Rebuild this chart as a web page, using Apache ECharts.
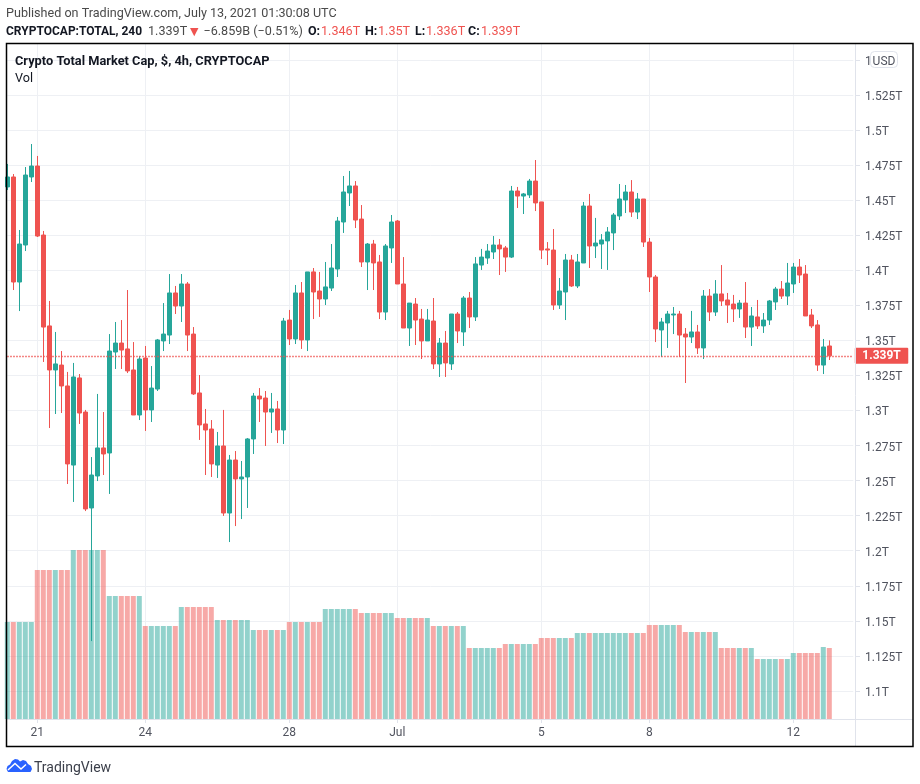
<!DOCTYPE html>
<html><head><meta charset="utf-8">
<style>html,body{margin:0;padding:0;background:#fff}#c{width:920px;height:784px}</style>
<script src="https://cdn.jsdelivr.net/npm/echarts@6/dist/echarts.min.js"></script>
</head><body><div id="c"></div>
<script>
// Prices in billions of USD, 4h candles
const opens=[1459.4,1466.5,1391.6,1418,1466.5,1474.3,1425.1,1360.3,1328.9,1332.4,1317.5,1261.1,1323.2,1298.9,1230.5,1253.3,1273.3,1269.7,1341.7,1348.1,1343.9,1328.9,1296.8,1337.4,1300.4,1315.3,1349.6,1353.8,1383.8,1374.5,1390.2,1354.5,1312.5,1290.4,1286.8,1261.1,1274.7,1226.9,1264.7,1251.2,1252.6,1279.7,1310.3,1308.9,1298.9,1301.1,1286.1,1364.5,1351,1383.8,1350.3,1398.8,1385.2,1379.5,1387.3,1400.9,1434.4,1455.1,1460.1,1436.5,1405.9,1418.7,1405.9,1370.2,1415.9,1435.1,1390.2,1358.8,1375.9,1365.2,1349.6,1363.8,1333.2,1348.1,1333.2,1368.8,1356,1380.2,1366.7,1403.7,1408.7,1413,1418,1415.9,1409.4,1456.5,1452.9,1453.7,1463.6,1448.7,1415.2,1414.4,1375.2,1384.5,1407.3,1388.8,1405.2,1445.8,1417.3,1418.7,1420.9,1426.6,1438.7,1450.1,1455.8,1441.5,1450.8,1420.1,1395.2,1357.4,1362.4,1368.1,1368.8,1354.5,1352.4,1356,1344.6,1381.6,1370.2,1383.1,1378.8,1375.9,1372.4,1376.6,1359.5,1366.7,1360.3,1364.5,1377.4,1386.6,1381.6,1390.2,1402.3,1397.3,1368.1,1361,1332.4,1346];
const closes=[1466.5,1391.6,1418.7,1467.9,1474.3,1424.4,1359.5,1328.9,1333.2,1317.5,1261.9,1323.9,1298.2,1229.8,1254,1273.3,1269,1342.4,1348.1,1343.1,1328.2,1296.8,1336.7,1300.4,1316,1350.3,1354.5,1383.8,1374.5,1390.2,1353.8,1311.8,1289.7,1286.1,1261.9,1274.7,1226.9,1264.7,1251.2,1252.6,1279.7,1310.3,1308.2,1298.9,1301.1,1286.1,1363.8,1351,1383.8,1350.3,1398.8,1384.5,1379.5,1388.1,1401.6,1435.1,1455.8,1460.1,1435.8,1405.9,1418.7,1405.2,1370.2,1417.3,1434.4,1390.2,1358.8,1376.6,1364.5,1349.6,1364.5,1333.2,1348.1,1333.9,1368.8,1356.7,1380.2,1366.7,1404.5,1409.4,1413.7,1418,1415.2,1409.4,1456.5,1452.9,1454.4,1463.6,1448,1414.4,1414.4,1375.2,1385.2,1407.3,1388.8,1405.9,1445.8,1417.3,1419.4,1421.6,1427.3,1439.4,1450.8,1455.8,1441.5,1450.8,1420.1,1395.2,1358.1,1363.1,1368.8,1368.8,1353.8,1352.4,1356,1344.6,1381.6,1370.2,1383.1,1378.1,1375.2,1372.4,1376.6,1359.5,1367.4,1360.3,1364.5,1378.1,1386.6,1381.6,1390.9,1402.3,1396.6,1367.4,1360.3,1332.4,1345.3,1339];
const highs=[1475.8,1468.6,1428.7,1473.6,1490,1481.5,1428,1378.1,1356,1342.4,1327.5,1333.9,1326,1300.4,1266.8,1311.8,1298.9,1354.5,1363.1,1364.5,1385.9,1348.8,1338.9,1346,1331.7,1351,1376.6,1397.3,1388.8,1397.3,1391.6,1359.5,1325.3,1301.1,1293.2,1284.7,1300.4,1268.3,1271.1,1264,1280.4,1312.5,1316,1313.9,1312.5,1306.8,1366,1371.7,1389.5,1391.6,1398.8,1401.6,1398.8,1405.9,1418.7,1438,1467.2,1470.8,1463.6,1446.5,1419.4,1421.6,1410.9,1418.7,1439.4,1435.8,1409.4,1376.6,1380.2,1372.4,1372.4,1380.2,1351.7,1356.7,1368.8,1370.2,1381.6,1384.5,1409.4,1415.2,1418.7,1424.4,1422.3,1417.3,1460.1,1459.4,1455.1,1465.1,1478.6,1448.7,1420.1,1429.4,1394.5,1411.6,1410.9,1411.6,1448.7,1454.4,1437.3,1425.8,1430.8,1440.8,1461.5,1460.8,1464.3,1455.1,1450.8,1423,1396.6,1366,1371,1373.8,1371,1358.8,1371,1361,1385.9,1386.6,1393,1403.7,1383.8,1382.4,1378.8,1391.6,1373.8,1378.8,1369.5,1378.8,1388.1,1392.3,1405.2,1405.2,1408,1403.7,1372.4,1364.5,1351,1350];
const lows=[1457.2,1385.9,1370.9,1413.7,1462.9,1423.7,1334.6,1287.5,1297.5,1298.2,1247.6,1234.8,1290.4,1228.3,1135.6,1249.7,1254,1240.5,1329.6,1329.6,1326.7,1296.8,1293.2,1285.4,1291.8,1313.9,1342.4,1347.4,1368.8,1363.1,1342.4,1311.1,1279,1254,1252.6,1251.9,1224.8,1206.2,1217.6,1222.6,1230.5,1269,1291.8,1274.7,1284,1276.8,1276.1,1346.7,1347.4,1343.9,1342.4,1365.2,1366.7,1375.2,1385.2,1395.2,1426.6,1445.8,1430.1,1402.3,1385.9,1385.9,1365.2,1364.5,1405.2,1390.2,1358.8,1346,1346.7,1336.7,1349.6,1329.6,1323.9,1323.9,1328.9,1348.1,1346,1358.8,1363.8,1400.2,1404.5,1408,1396.6,1398.8,1408.7,1444.4,1440.1,1451.5,1442.2,1408,1403.7,1371.7,1372.4,1364.5,1388.1,1387.3,1405.2,1401.6,1408.7,1400.9,1400.2,1414.4,1435.8,1440.8,1438,1436.5,1416.6,1384.5,1348.8,1338.1,1344.6,1354.5,1338.1,1319.6,1348.1,1340.3,1336.7,1363.8,1367.4,1374.5,1362.4,1363.1,1366,1351.7,1346,1358.1,1355.3,1361,1371.7,1379.5,1375.2,1383.8,1390.9,1367.4,1358.8,1328.2,1326,1336];
const volumes=[97,97,97,97,97,149,149,149,149,149,149,169,169,169,169,169,169,123,123,123,123,123,123,93,93,93,93,93,93,112,112,112,112,112,112,99,99,99,99,99,99,89,89,89,89,89,89,97,97,97,97,97,97,110,110,110,110,110,110,106,106,106,106,106,106,101,101,101,101,101,101,93,93,93,93,93,93,71,71,71,71,71,71,75,75,75,75,75,75,81,81,81,81,81,81,86,86,86,86,86,86,86,86,86,86,86,86,94,94,94,94,94,94,87,87,87,87,87,87,71,71,71,71,71,71,60,60,60,60,60,60,66,66,66,66,66,72,71];
const tickIndexes=[5,23,47,65,89,107,131];
const tickLabels=['21','24','28','Jul','5','8','12'];
const lastPrice=1339;
const categories=Array.from({length:142},(_,i)=>'bar '+i);

const UP='#26a69a',DOWN='#ef5350',GRID='#eef0f4',AX='#e0e3eb',TXT='#50535e';
const FONT='Roboto,sans-serif';

const chart=echarts.init(document.getElementById('c'),null,{renderer:'canvas'});
const t=(x,y,text,color,opts)=>({type:'text',z:95,x,y:y+2,style:Object.assign({text,fill:color,font:'12.6px '+FONT,verticalAlign:'middle'},opts||{})});
const bold=(x,y,text,color,size)=>t(x,y,text,color||'#131722',{font:'bold '+(size||12.5)+'px '+FONT});

chart.setOption({
  animation:false,
  backgroundColor:'#fff',
  grid:[
    {left:7.3,width:846,top:24.81,height:701.25,containLabel:false},
    {left:7.3,width:846,top:44,height:675,containLabel:false}
  ],
  xAxis:[
    {type:'category',gridIndex:0,data:categories,boundaryGap:false,show:false},
    {type:'category',gridIndex:1,data:categories,boundaryGap:false,
      axisLine:{show:false},
      axisTick:{show:true,length:4,interval:i=>tickIndexes.includes(i),lineStyle:{color:AX}},
      splitLine:{show:true,interval:i=>tickIndexes.includes(i),lineStyle:{color:GRID,width:1}},
      axisLabel:{show:true,margin:8,color:TXT,fontFamily:FONT,fontSize:12,hideOverlap:false,
        interval:i=>tickIndexes.includes(i),
        formatter:(v,i)=>tickLabels[tickIndexes.indexOf(i)]||''}}
  ],
  yAxis:[
    {type:'value',gridIndex:0,position:'right',min:1075,max:1575,interval:25,offset:1.7,scale:true,
      axisLine:{show:false},
      axisTick:{show:true,length:5,lineStyle:{color:AX}},
      splitLine:{show:true,showMinLine:false,showMaxLine:false,lineStyle:{color:GRID,width:1}},
      axisLabel:{show:true,margin:10,color:TXT,fontFamily:FONT,fontSize:12,showMinLabel:false,showMaxLabel:false,
        verticalAlign:'top',lineHeight:4,
        formatter:v=>(v/1000)+'T'}},
    {type:'value',gridIndex:1,position:'right',min:0,max:675,show:false}
  ],
  series:[
    {type:'bar',xAxisIndex:1,yAxisIndex:1,z:1,barWidth:5,clip:true,silent:true,
      data:volumes.map((v,i)=>({value:v,itemStyle:{color:closes[i]>=opens[i]?UP:DOWN,opacity:0.5}}))},
    {type:'candlestick',xAxisIndex:0,yAxisIndex:0,z:3,barWidth:4,clip:true,silent:true,
      itemStyle:{color:UP,color0:DOWN,borderColor:UP,borderColor0:DOWN,borderWidth:1},
      data:opens.map((o,i)=>[o,closes[i],lows[i],highs[i]]),
      markLine:{silent:true,symbol:'none',animation:false,z:4,
        lineStyle:{color:DOWN,type:[1.4,1.6],width:1.4},
        label:{show:true,position:'end',distance:1.5,formatter:'1.339T',color:'#fff',fontFamily:FONT,fontSize:12,fontWeight:'bold',
          backgroundColor:DOWN,padding:[3,7.5,1,7.5],borderRadius:1},
        data:[{yAxis:lastPrice}]}}
  ],
  graphic:[
    {type:'line',z:92,shape:{x1:7,y1:719.5,x2:913,y2:719.5},style:{stroke:AX,lineWidth:1}},
    {type:'line',z:92,shape:{x1:855.5,y1:44,x2:855.5,y2:747},style:{stroke:AX,lineWidth:1}},
    {type:'rect',z:93,shape:{x:6.5,y:43.5,width:906.5,height:703},style:{fill:'none',stroke:'#000',lineWidth:1.5}},
    {type:'rect',z:94,shape:{x:870.5,y:51.5,width:27,height:16,r:4},style:{fill:'#fff',stroke:AX,lineWidth:1}},
    t(884,60,'USD',TXT,{font:'12px '+FONT,align:'center'}),
    t(6,12,'Published on TradingView.com, July 13, 2021 01:30:08 UTC','#4a4a4a'),
    bold(6,30,'CRYPTOCAP:TOTAL, 240','#131722',12),
    t(148,30,'1.339T','#4a4a4a'),
    t(190,30,'▼',DOWN,{font:'11px "DejaVu Sans"'}),
    t(203.5,30,'−6.859B (−0.51%)','#4a4a4a'),
    bold(308,30,'O:'),t(321,30,'1.346T',DOWN),
    bold(365,30,'H:'),t(378,30,'1.35T',DOWN),
    bold(415,30,'L:'),t(426,30,'1.336T',DOWN),
    bold(468,30,'C:'),t(481,30,'1.339T',DOWN),
    bold(15,60,'Crypto Total Market Cap, $, 4h, CRYPTOCAP','#131722',12.8),
    t(15,77,'Vol','#131722'),
    {type:'polygon',z:95,shape:{points:[[8,772],[6.5,769],[7.5,766],[10,764.5],[12,761],[15,759],[18,759.5],[20,761.5],[23,760],[26,761],[28,764],[31,766],[32,769],[30.5,772]]},style:{fill:'#2962ff'}},
    {type:'polyline',z:96,shape:{points:[[8,770],[15,763.5],[21,769],[26,764.5]]},style:{fill:'none',stroke:'#fff',lineWidth:1.5}},
    t(34,766,'TradingView','#3b3f4a',{font:'14px '+FONT})
  ]
});
</script></body></html>
